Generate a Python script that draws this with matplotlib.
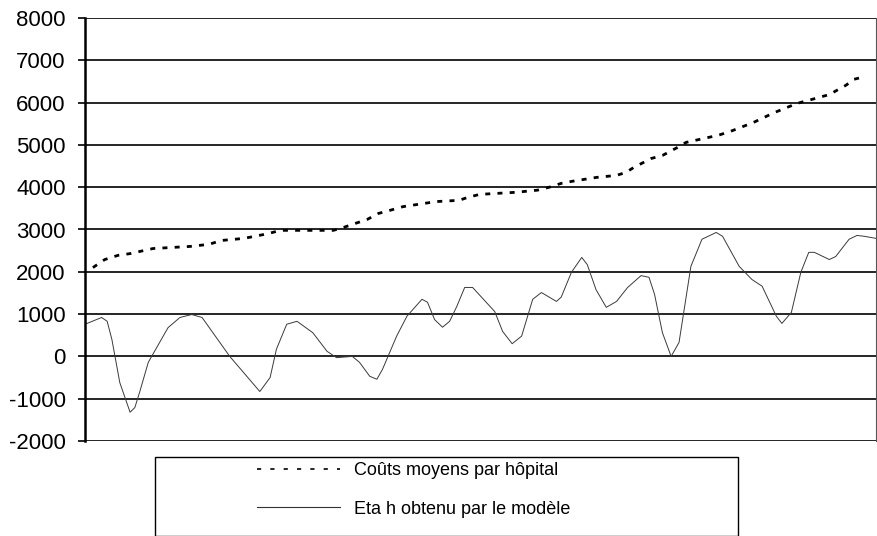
import matplotlib
matplotlib.use("Agg")
import matplotlib.pyplot as plt
from matplotlib.lines import Line2D
from matplotlib.patches import Rectangle

plt.rcParams['font.family'] = ['Liberation Sans', 'DejaVu Sans']

# hospital rank (0..100, ordered by mean cost) and values
cost_x = [1.0, 2.5, 4.2, 5.7, 8.6, 13.3, 15.7, 17.2, 20.1, 23.1, 24.7, 31.4, 32.7,
          35.7, 37.1, 38.5, 40.2, 44.4, 47.3, 48.4, 49.9, 54.5, 57.2, 58.7, 60.2,
          61.6, 64.6, 67.2, 68.4, 69.4, 71.6, 73.0, 74.9, 76.0, 78.9, 80.1, 81.6,
          84.5, 87.1, 90.0, 91.6, 94.1, 96.2, 97.2, 98.7]
cost = [2100, 2290, 2390, 2430, 2550, 2600, 2650, 2740, 2790, 2900, 2980, 2980,
        3050, 3240, 3380, 3450, 3540, 3660, 3690, 3760, 3830, 3880, 3930, 4000,
        4090, 4140, 4230, 4280, 4350, 4470, 4680, 4750, 4940, 5060, 5180, 5230,
        5320, 5530, 5760, 5980, 6060, 6190, 6410, 6550, 6620]

eta_x = [0.0, 2.1, 2.8, 3.4, 4.4, 5.7, 6.3, 6.9, 8.0, 10.5,
         12.0, 13.5, 14.8, 18.3, 22.1, 23.4, 24.2, 25.5, 26.8, 28.8,
         30.6, 31.8, 33.8, 34.7, 36.0, 36.9, 37.6, 39.4, 40.7, 42.6,
         43.3, 44.2, 45.2, 46.1, 47.0, 48.0, 49.0, 51.8, 52.8, 54.0,
         55.2, 56.6, 57.7, 59.6, 60.2, 61.5, 62.8, 63.5, 64.6, 65.9,
         67.2, 68.6, 70.3, 71.3, 72.0, 73.0, 74.1, 75.1, 76.6, 78.0,
         79.8, 80.6, 82.7, 84.3, 85.6, 87.4, 88.1, 89.3, 90.5, 91.5,
         92.2, 94.1, 94.9, 96.6, 97.6, 98.5, 100.0]
eta = [760, 920, 830, 400, -620, -1320, -1210, -850, -140, 680,
       920, 990, 920, 0, -830, -500, 170, 760, 830, 560,
       120, -30, 0, -140, -470, -540, -310, 480, 950, 1350,
       1280, 870, 690, 830, 1180, 1630, 1630, 1060, 590, 300,
       480, 1350, 1510, 1300, 1400, 1990, 2340, 2170, 1580, 1160,
       1300, 1630, 1910, 1870, 1470, 560, 0, 330, 2130, 2770,
       2930, 2840, 2130, 1820, 1660, 950, 780, 1040, 1990, 2460,
       2460, 2290, 2360, 2770, 2860, 2840, 2790]

yticks = list(range(-2000, 8001, 1000))
labels = ['Coûts moyens par hôpital', 'Eta h obtenu par le modèle']

fig = plt.figure(figsize=(8.77, 5.36), dpi=100)
ax = fig.add_axes([85 / 877, 1 - 441 / 536, 791 / 877, 423 / 536])

ax.plot(cost_x, cost, color='black', lw=2.0, dashes=(1.8, 2.6), dash_capstyle='butt')
ax.plot(eta_x, eta, color='#3a3a3a', lw=0.7)

ax.set_xlim(0, 100)
ax.set_ylim(-2000, 8000)
ax.set_yticks(yticks)
ax.set_yticklabels([str(t) for t in yticks], fontsize=16)
ax.set_xticks([])
ax.tick_params(axis='y', direction='out', length=5, width=1.2, pad=9)
for t in yticks:
    ax.axhline(t, color='black', lw=1.2, zorder=0)
ax.spines['top'].set_visible(False)
ax.spines['bottom'].set_visible(False)
ax.spines['left'].set_linewidth(1.8)
ax.spines['right'].set_linewidth(0.8)
ax.spines['right'].set_color('#555555')

# legend box (cut off at the bottom like the original)
fig.add_artist(Rectangle((155 / 877, 0), (738 - 155) / 877, 1 - 457 / 536,
                         transform=fig.transFigure, fill=False, edgecolor='black',
                         lw=1.0, clip_on=False))
handles = [Line2D([], [], color='black', lw=1.2, dashes=(2.5, 5.5), dash_capstyle='butt'),
           Line2D([], [], color='#333333', lw=0.8)]
fig.legend(handles, labels, loc='upper left', bbox_to_anchor=(257 / 877, 1 - 462 / 536),
           frameon=False, fontsize=13, handlelength=4.6, handletextpad=0.8,
           labelspacing=1.2, borderpad=0, borderaxespad=0)

fig.savefig('out.png', dpi=100)
